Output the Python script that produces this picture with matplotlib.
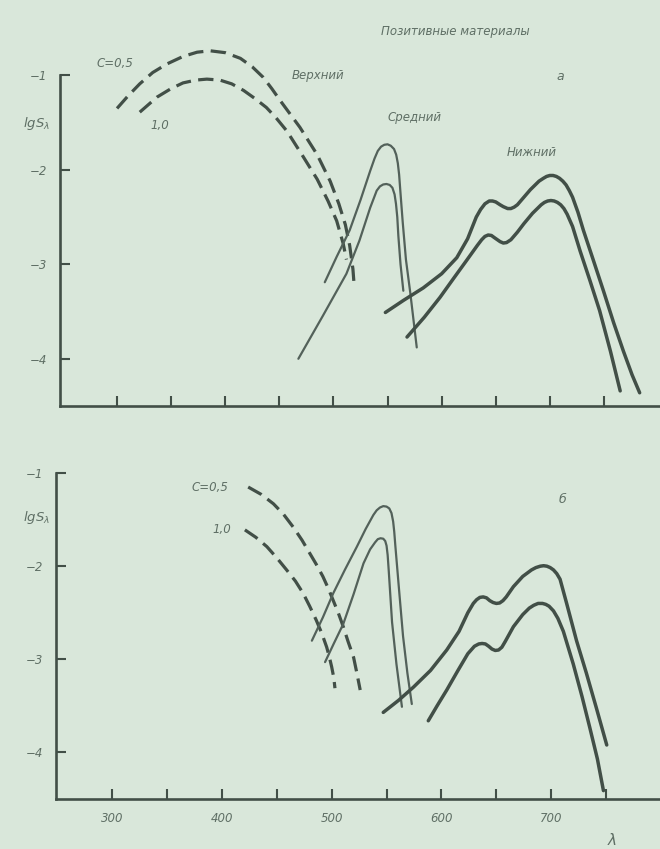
import matplotlib
matplotlib.use("Agg")
import matplotlib.pyplot as plt
from matplotlib.ticker import FixedLocator, FuncFormatter

# ---- data: spectral sensitivity lg S_lambda vs wavelength (nm) ----
# panel a
a_top_c05_wl = [300, 310, 321, 333, 346, 361, 374, 386, 400, 414, 425, 435, 443, 451, 460,
                469, 485, 497, 505, 511, 515, 518, 519]
a_top_c05_lg = [-1.35, -1.22, -1.09, -0.97, -0.88, -0.80, -0.755, -0.74, -0.76, -0.82, -0.91,
                -1.02, -1.14, -1.27, -1.41, -1.55, -1.84, -2.12, -2.36, -2.58, -2.80, -3.05, -3.20]
a_top_c10_wl = [321, 337, 350, 361, 373, 383, 395, 406, 417, 428, 438, 447, 457, 472, 485,
                495, 503, 509, 512]
a_top_c10_lg = [-1.39, -1.23, -1.14, -1.08, -1.05, -1.04, -1.05, -1.09, -1.16, -1.25, -1.34,
                -1.45, -1.59, -1.86, -2.10, -2.33, -2.54, -2.78, -2.95]

a_mid_c05_wl = [492, 503, 515, 525, 534, 538, 541, 544, 547, 550, 553, 556, 558, 559.5, 560.7,
                562, 564, 567, 571, 577]
a_mid_c05_lg = [-3.19, -2.92, -2.64, -2.32, -2.01, -1.88, -1.80, -1.755, -1.735, -1.73, -1.745,
                -1.78, -1.84, -1.93, -2.05, -2.25, -2.55, -2.95, -3.30, -3.88]
a_mid_c10_wl = [467.6, 490, 512, 524, 534, 540, 543, 546, 549, 552, 554.5, 556.5, 557.8, 559,
                560, 562, 564.6]
a_mid_c10_lg = [-4.00, -3.55, -3.10, -2.75, -2.40, -2.22, -2.175, -2.155, -2.15, -2.16, -2.19,
                -2.26, -2.36, -2.50, -2.70, -3.00, -3.28]

a_low_c05_wl = [548, 565, 583, 600, 614, 624, 632, 636, 640, 644, 647, 650, 654, 657, 661, 664,
                667, 670, 676, 682, 690, 694, 697, 700, 703, 706, 709, 712, 715, 718, 721, 726,
                731, 740, 749.5, 759, 768, 776, 783]
a_low_c05_lg = [-3.51, -3.38, -3.25, -3.10, -2.93, -2.73, -2.50, -2.42, -2.36, -2.33, -2.33,
                -2.34, -2.37, -2.39, -2.41, -2.41, -2.395, -2.37, -2.29, -2.21, -2.12, -2.09,
                -2.07, -2.06, -2.06, -2.07, -2.09, -2.12, -2.16, -2.22, -2.29, -2.45, -2.64,
                -2.95, -3.28, -3.62, -3.92, -4.17, -4.36]
a_low_c10_wl = [568, 584, 598.5, 611, 623, 633, 637, 640, 643, 646, 649, 654, 657, 660, 664, 670,
                676, 684, 692, 695, 698, 701, 704, 707, 710, 713, 716, 721, 728, 737, 746, 756, 765]
a_low_c10_lg = [-3.77, -3.56, -3.35, -3.15, -2.96, -2.80, -2.74, -2.705, -2.69, -2.695, -2.72,
                -2.76, -2.775, -2.77, -2.74, -2.66, -2.57, -2.46, -2.37, -2.345, -2.33, -2.325,
                -2.33, -2.345, -2.37, -2.41, -2.47, -2.60, -2.86, -3.17, -3.49, -3.92, -4.34]

# panel b
b_top_c05_wl = [424, 436, 447, 456, 465, 473, 480, 486, 492, 497, 501.5, 506, 510.6, 515, 520, 523, 526]
b_top_c05_lg = [-1.15, -1.23, -1.33, -1.44, -1.58, -1.72, -1.86, -1.98, -2.11, -2.24, -2.37,
                -2.50, -2.65, -2.81, -2.98, -3.15, -3.33]
b_top_c10_wl = [421, 431, 441, 450, 459, 467, 474, 480, 486, 491, 495.5, 498, 500, 502, 503]
b_top_c10_lg = [-1.61, -1.69, -1.79, -1.91, -2.04, -2.16, -2.29, -2.43, -2.58, -2.72, -2.87,
                -2.98, -3.08, -3.20, -3.31]

b_mid_c05_wl = [482, 492, 501.5, 512, 523, 531, 538, 541, 544, 547, 550, 552.5, 554.5, 556,
                557, 558, 561, 565, 569, 573]
b_mid_c05_lg = [-2.80, -2.55, -2.29, -2.04, -1.79, -1.60, -1.45, -1.40, -1.37, -1.355, -1.36,
                -1.38, -1.43, -1.52, -1.63, -1.78, -2.20, -2.75, -3.15, -3.48]
b_mid_c10_wl = [494, 502, 510.6, 520, 529, 535, 539.5, 542, 544.5, 547, 548.8, 550, 551, 552,
                555, 559, 564]
b_mid_c10_lg = [-3.03, -2.83, -2.62, -2.30, -1.97, -1.82, -1.745, -1.71, -1.70, -1.705, -1.73,
                -1.78, -1.88, -2.05, -2.60, -3.05, -3.51]

b_low_c05_wl = [547, 561, 574.4, 590, 604.8, 616, 624, 629, 632, 635, 638, 641, 644, 647, 650,
                653, 656, 659, 665.5, 674, 682, 686, 690, 693, 696, 699, 702, 705, 708, 714, 723,
                732, 741, 750.5]
b_low_c05_lg = [-3.57, -3.44, -3.30, -3.12, -2.90, -2.70, -2.50, -2.40, -2.36, -2.335, -2.33,
                -2.34, -2.37, -2.39, -2.40, -2.395, -2.37, -2.33, -2.22, -2.11, -2.04, -2.015,
                -2.00, -1.995, -2.00, -2.015, -2.04, -2.08, -2.14, -2.40, -2.80, -3.15, -3.52, -3.92]
b_low_c10_wl = [588, 596, 604.8, 615, 624, 630, 634, 637, 640, 643, 646, 649, 652, 655, 658,
                665.5, 674, 680, 684, 688, 692, 695, 698, 702, 706, 711, 720, 728, 735, 742, 747.5]
b_low_c10_lg = [-3.66, -3.50, -3.33, -3.12, -2.94, -2.86, -2.835, -2.83, -2.835, -2.86, -2.89,
                -2.905, -2.90, -2.87, -2.81, -2.65, -2.52, -2.45, -2.42, -2.40, -2.40, -2.41,
                -2.43, -2.48, -2.56, -2.70, -3.05, -3.40, -3.73, -4.07, -4.41]

y_ticks = [-1, -2, -3, -4]
x_ticks = [300, 350, 400, 450, 500, 550, 600, 650, 700, 750]
x_labels = {300: "300", 400: "400", 500: "500", 600: "600", 700: "700"}

title = "Позитивные материалы"

# ---- styling ----
BG = "#d9e7da"
INK = "#424f47"
TXT = "#5f6f65"
FONT = ["DejaVu Sans"]

W, H = 660, 849
fig = plt.figure(figsize=(W / 100, H / 100), dpi=100, facecolor=BG)


def px_axes(left, top, right, bottom):
    return fig.add_axes([left / W, 1 - bottom / H, (right - left) / W, (bottom - top) / H])


def ftext(x, y, s, size=8.5, **kw):
    fig.text(x / W, 1 - y / H, s, ha="center", va="center", fontsize=size,
             color=TXT, style="italic", family=FONT, **kw)


def style_axes(ax, xlim, ylim, show_xlabels):
    ax.set_facecolor(BG)
    ax.set_xlim(*xlim)
    ax.set_ylim(*ylim)
    for s in ("top", "right"):
        ax.spines[s].set_visible(False)
    for s in ("left", "bottom"):
        ax.spines[s].set_color(INK)
        ax.spines[s].set_linewidth(1.9)
    ax.spines["left"].set_bounds(-4.5, -1)
    ax.yaxis.set_major_locator(FixedLocator(y_ticks))
    ax.yaxis.set_major_formatter(FuncFormatter(lambda v, p: "\u2212%d" % abs(v)))
    ax.xaxis.set_major_locator(FixedLocator(x_ticks))
    if show_xlabels:
        ax.xaxis.set_major_formatter(FuncFormatter(lambda v, p: x_labels.get(int(round(v)), "")))
    else:
        ax.xaxis.set_major_formatter(FuncFormatter(lambda v, p: ""))
    ax.tick_params(axis="both", direction="in", length=7, width=1.5, color=INK,
                   labelcolor=TXT, labelsize=8.5)
    ax.tick_params(axis="y", pad=9)
    ax.tick_params(axis="x", pad=9)
    for lab in ax.get_xticklabels() + ax.get_yticklabels():
        lab.set_style("italic")
        lab.set_family(FONT)


def draw_panel(ax, top05, top10, mid05, mid10, low05, low10):
    dash_kw = dict(color=INK, lw=2.3, dashes=(4.8, 2.3), dash_capstyle="butt")
    ax.plot(*top05, **dash_kw)
    ax.plot(*top10, **dash_kw)
    mid_kw = dict(color="#53615a", lw=1.6, solid_joinstyle="round", solid_capstyle="round")
    ax.plot(*mid05, **mid_kw)
    ax.plot(*mid10, **mid_kw)
    low_kw = dict(color=INK, lw=2.5, solid_joinstyle="round", solid_capstyle="round")
    ax.plot(*low05, **low_kw)
    ax.plot(*low10, **low_kw)


# panel a
ax1 = px_axes(60, 30, 660, 406)
style_axes(ax1, (247.3, 801.8), (-4.5, -0.52), show_xlabels=False)
draw_panel(ax1, (a_top_c05_wl, a_top_c05_lg), (a_top_c10_wl, a_top_c10_lg),
           (a_mid_c05_wl, a_mid_c05_lg), (a_mid_c10_wl, a_mid_c10_lg),
           (a_low_c05_wl, a_low_c05_lg), (a_low_c10_wl, a_low_c10_lg))

# panel b
ax2 = px_axes(56, 440, 660, 799)
style_axes(ax2, (249, 799), (-4.5, -0.645), show_xlabels=True)
draw_panel(ax2, (b_top_c05_wl, b_top_c05_lg), (b_top_c10_wl, b_top_c10_lg),
           (b_mid_c05_wl, b_mid_c05_lg), (b_mid_c10_wl, b_mid_c10_lg),
           (b_low_c05_wl, b_low_c05_lg), (b_low_c10_wl, b_low_c10_lg))

# annotations
ftext(455, 31, title, size=8.5)
ftext(115, 63, "C=0,5")
ftext(160, 125, "1,0")
ftext(37, 123, r"$lgS_{\lambda}$", size=9.5)
ftext(318, 76, "Верхний")
ftext(560, 76, "а", size=9)
ftext(414, 117, "Средний")
ftext(532, 153, "Нижний")

ftext(210, 487, "C=0,5")
ftext(222, 530, "1,0")
ftext(562, 500, "б", size=9)
ftext(37, 517, r"$lgS_{\lambda}$", size=9.5)
ftext(612, 840, r"$\lambda$", size=11)

fig.savefig("out.png", dpi=100, facecolor=BG)
